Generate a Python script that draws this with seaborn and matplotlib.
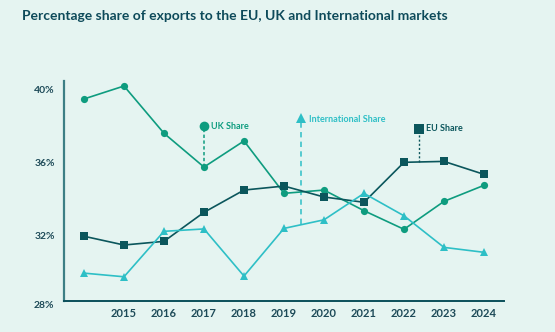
import matplotlib
matplotlib.use("Agg")
import matplotlib.pyplot as plt
import seaborn as sns
import pandas as pd

years = [2014, 2015, 2016, 2017, 2018, 2019, 2020, 2021, 2022, 2023, 2024]
uk_share = [39.47, 40.18, 37.59, 35.74, 37.17, 34.30, 34.48, 33.35, 32.33, 33.86, 34.74]
eu_share = [31.95, 31.47, 31.67, 33.26, 34.48, 34.70, 34.10, 33.81, 36.00, 36.05, 35.34]
intl_share = [29.93, 29.73, 32.22, 32.35, 29.77, 32.38, 32.85, 34.30, 33.07, 31.34, 31.07]
series_names = ["UK Share", "EU Share", "International Share"]
tick_years = [2015, 2016, 2017, 2018, 2019, 2020, 2021, 2022, 2023, 2024]
y_ticks = [32, 36, 40]

BG = "#e5f4f1"
UK_C = "#0e9c7f"
EU_C = "#0b565c"
INTL_C = "#2ebfc6"
TEXT_C = "#1d4a58"

df = pd.DataFrame({
    "year": years * 3,
    "share": uk_share + eu_share + intl_share,
    "series": [series_names[0]] * len(years) + [series_names[1]] * len(years)
              + [series_names[2]] * len(years),
})

sns.set_theme(style="white")
plt.rcParams["font.family"] = ["Lato", "DejaVu Sans"]

fig = plt.figure(figsize=(5.55, 3.32), dpi=100, facecolor=BG)
ax = fig.add_axes([0.1153, 0.0943, 0.7928, 0.6626], facecolor=BG)

palette = {"UK Share": UK_C, "EU Share": EU_C, "International Share": INTL_C}
markers = {"UK Share": "o", "EU Share": "s", "International Share": "^"}
sizes = {"UK Share": 5.2, "EU Share": 5.8, "International Share": 5.6}
for name in series_names:
    sub = df[df["series"] == name]
    sns.lineplot(data=sub, x="year", y="share", ax=ax, color=palette[name],
                 marker=markers[name], markersize=sizes[name],
                 markeredgewidth=0, linewidth=1.2, legend=False, zorder=3)

ax.set_xlim(2013.5, 2024.5)
ax.set_ylim(28.42, 40.47)
ax.set_xticks(tick_years)
ax.set_xticklabels([str(y) for y in tick_years])
ax.set_yticks(y_ticks)
ax.set_yticklabels([f"{v}%" for v in y_ticks])
ax.text(-0.022, 28.18, "28%", transform=ax.get_yaxis_transform(), ha="right",
        va="center", fontsize=7.5, fontweight="bold", color=TEXT_C, clip_on=False)
ax.tick_params(axis="both", length=0, labelsize=7.5, colors=TEXT_C)
ax.tick_params(axis="y", pad=6.5)
ax.tick_params(axis="x", pad=5)
for lab in ax.get_xticklabels() + ax.get_yticklabels():
    lab.set_fontweight("bold")
for lab in ax.get_xticklabels():
    lab.set_fontsize(8)
ax.set_xlabel("")
ax.set_ylabel("")

for side in ["top", "right"]:
    ax.spines[side].set_visible(False)
ax.spines["left"].set_color("#3d7f85")
ax.spines["left"].set_linewidth(1.6)
ax.spines["bottom"].set_color("#0b4f5a")
ax.spines["bottom"].set_linewidth(1.4)

# series callouts
ax.plot([2017, 2017], [35.74, 37.98], color=UK_C, lw=1.1, ls=(0, (2.2, 1.6)), zorder=2)
ax.plot([2017], [37.98], marker="o", ms=7, color=UK_C, mew=0, zorder=4)
ax.text(2017.18, 37.98, "UK Share", color=UK_C, fontsize=6.5, fontweight="bold",
        va="center", ha="left")

ax.plot([2019.42, 2019.42], [32.6, 38.3], color=INTL_C, lw=1.1, ls=(0, (3.5, 2.8)), zorder=2)
ax.plot([2019.42], [38.45], marker="^", ms=7.5, color=INTL_C, mew=0, zorder=4)
ax.text(2019.62, 38.35, "International Share", color=INTL_C, fontsize=6.5,
        fontweight="bold", va="center", ha="left")

ax.plot([2022.38, 2022.38], [36.02, 37.8], color=EU_C, lw=1.0, ls=(0, (1.5, 1.5)), zorder=2)
ax.plot([2022.38], [37.85], marker="s", ms=7.5, color=EU_C, mew=0, zorder=4)
ax.text(2022.55, 37.85, "EU Share", color=EU_C, fontsize=6.5, fontweight="bold",
        va="center", ha="left")

fig.text(0.040, 0.953, "Percentage share of exports to the EU, UK and International markets",
         fontsize=10.0, fontweight="bold", color="#0d4a5a", ha="left", va="center")

fig.savefig("out.png", dpi=100, facecolor=BG)
